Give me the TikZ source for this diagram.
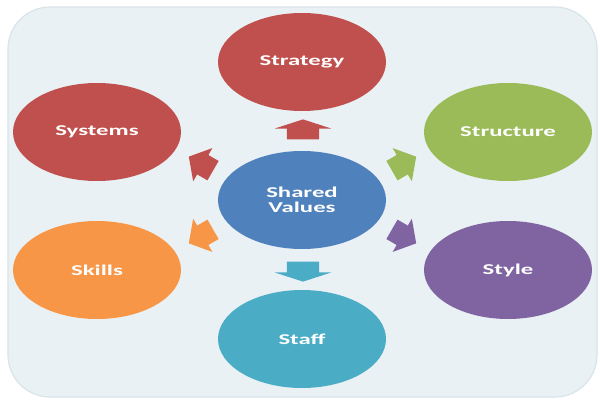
\documentclass[tikz,border=0pt]{standalone}
\usepackage{fontspec}
\newfontfamily\labelfont{Carlito}[FakeStretch=1.65]
\usepackage{tikz}
\usetikzlibrary{shapes, arrows, positioning}
\definecolor{bgfill}{HTML}{EAF1F5}
\definecolor{bgline}{HTML}{D9E4EA}
\definecolor{cred}{HTML}{C0504D}
\definecolor{cgreen}{HTML}{9BBB59}
\definecolor{cpurple}{HTML}{8064A2}
\definecolor{caqua}{HTML}{4BACC6}
\definecolor{corange}{HTML}{F79646}
\definecolor{cblue}{HTML}{4F81BD}
\tikzstyle{sphere} = [ellipse, minimum width=168pt, minimum height=98pt, text centered, text=white, font=\labelfont\bfseries\fontsize{15}{15}\selectfont]
\tikzstyle{block} = [single arrow, draw=none, minimum height=20pt, inner xsep=0pt, inner ysep=16pt, single arrow head extend=12pt, single arrow tip angle=144]
\tikzstyle{smallblock} = [block, minimum height=28pt, inner ysep=11pt, single arrow head extend=8pt, single arrow tip angle=100]

\begin{document}
\begin{tikzpicture}[x=1pt, y=1pt]
   \useasboundingbox (0,0) rectangle (600,400);
   \draw [fill=bgfill, draw=bgline, line width=1.2pt, rounded corners=42pt] (8,3) rectangle (597,393);

   % the seven elements
   \node (sv) [sphere, fill=cblue, align=center] at (302,200) {Shared\\Values};
   \node (strat) [sphere, fill=cred] at (302,338) {Strategy};
   \node (sys) [sphere, fill=cred] at (97,268) {Systems};
   \node (struc) [sphere, fill=cgreen] at (508,268) {Structure};
   \node (skl) [sphere, fill=corange] at (97,130) {Skills};
   \node (sty) [sphere, fill=cpurple] at (508,130) {Style};
   \node (stf) [sphere, fill=caqua] at (302,61) {Staff};

   % block arrows from shared values
   \node (a1) [block, fill=cred, rotate=90] at (303,268) {};
   \node (a2) [block, fill=caqua, rotate=-90] at (303,131) {};
   \node (a3) [smallblock, fill=cred, rotate=150] at (205,234) {};
   \node (a4) [smallblock, fill=cgreen, rotate=30] at (400,234) {};
   \node (a5) [smallblock, fill=corange, rotate=210] at (205,166) {};
   \node (a6) [smallblock, fill=cpurple, rotate=-30] at (400,166) {};
  \end{tikzpicture}
\end{document}
